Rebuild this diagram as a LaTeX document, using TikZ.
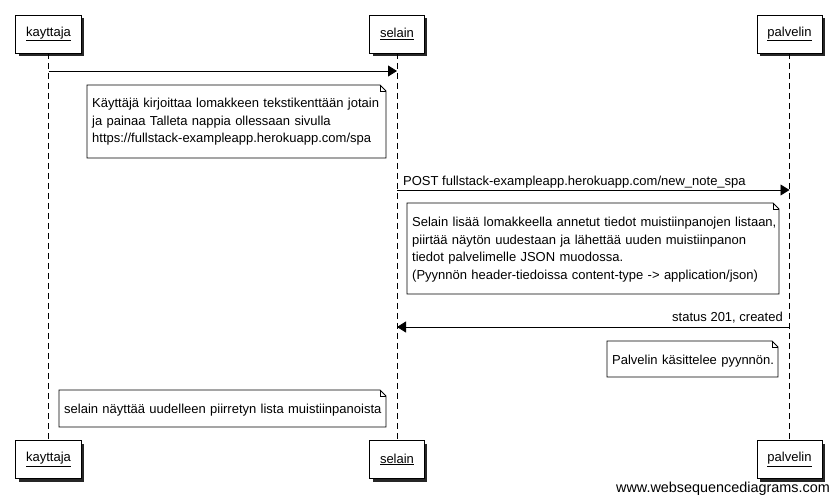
\documentclass[tikz,border=0pt]{standalone}
\usepackage{fontspec}
\setmainfont{Liberation Sans}
\usetikzlibrary{arrows.meta,shadows}
% #1 node name, #2 outline width, #3 outline height
\newcommand\drawnote[3]{%
  \draw[noteline] (#1.north west) -- ++(#2-6,0) -- ++(6,6) -- ++(0,#3-6) -- ++(-#2,0) -- cycle;
  \draw[noteline, fill=none] (#1.north west) ++(#2-6,0) -- ++(0,6) -- ++(6,0);}
\begin{document}
\begin{tikzpicture}[x=1pt,y=-1pt,
  font=\fontsize{13}{17.5}\selectfont,
  actor/.style={draw, line width=0.9pt, fill=white, minimum height=38pt, inner xsep=10.5pt,
    drop shadow={shadow xshift=3pt,shadow yshift=-3pt,fill=black,opacity=0.85}},
  lifeline/.style={line width=0.9pt, dash pattern=on 6pt off 4pt},
  msg/.style={line width=0.9pt, -{Triangle[length=9pt,width=11pt]}},
  note/.style={anchor=north west, inner xsep=5pt, inner ysep=0pt, align=left, text width=420pt},
  noteline/.style={line width=0.9pt, fill=white},
  lbl/.style={inner sep=0pt}]
\useasboundingbox (0,0) rectangle (835,502);
% lifelines
\coordinate (kt) at (48.5,53); \coordinate (kb) at (48.5,441);
\coordinate (st) at (397,53); \coordinate (sb) at (397,441);
\coordinate (pt) at (789.5,53); \coordinate (pb) at (789.5,441);
\draw[lifeline] (kt) -- (kb);
\draw[lifeline] (st) -- (sb);
\draw[lifeline] (pt) -- (pb);
% participants
\node[actor] (ktop) at (48.5,34) {\underline{kayttaja}};
\node[actor] (stop) at (397,34) {\underline{selain}};
\node[actor] (ptop) at (789.5,34) {\underline{palvelin}};
\node[actor] (kbot) at (48.5,459.5) {\underline{kayttaja}};
\node[actor] (sbot) at (397,459.5) {\underline{selain}};
\node[actor] (pbot) at (789.5,459.5) {\underline{palvelin}};
% message 1
\coordinate (m1a) at (48.5,71); \coordinate (m1b) at (397,71);
\draw[msg] (m1a) -- (m1b);
% note 1
\coordinate (n1) at (87,85);
\drawnote{n1}{299}{73}
\node[note, minimum height=73pt] (t1) at (n1)
  {Käyttäjä kirjoittaa lomakkeen tekstikenttään jotain\\ja painaa Talleta nappia ollessaan sivulla\\https://fullstack-exampleapp.herokuapp.com/spa};
% message 2
\coordinate (m2a) at (397,190); \coordinate (m2b) at (789.5,190);
\draw[msg] (m2a) -- (m2b);
\node[lbl, anchor=base west] (l2) at (403,186) {POST fullstack-exampleapp.herokuapp.com/new\_note\_spa};
% note 2
\coordinate (n2) at (407,203);
\drawnote{n2}{372}{91}
\node[note, minimum height=91pt] (t2) at ([yshift=-1pt]n2)
  {Selain lisää lomakkeella annetut tiedot muistiinpanojen listaan,\\piirtää näytön uudestaan ja lähettää uuden muistiinpanon\\tiedot palvelimelle JSON muodossa.\\(Pyynnön header-tiedoissa content-type -> application/json)};
% message 3
\coordinate (m3a) at (789.5,327); \coordinate (m3b) at (397,327);
\draw[msg] (m3a) -- (m3b);
\node[lbl, anchor=base east] (l3) at (783,322) {status 201, created};
% note 3
\coordinate (n3) at (607,341);
\drawnote{n3}{171}{36}
\node[note, minimum height=36pt] (t3) at ([yshift=-2pt]n3) {Palvelin käsittelee pyynnön.};
% note 4
\coordinate (n4) at (59,390);
\drawnote{n4}{327}{37}
\node[note, minimum height=37pt] (t4) at ([yshift=-1.5pt]n4) {selain näyttää uudelleen piirretyn lista muistiinpanoista};
% watermark
\node[lbl, anchor=base east, font=\fontsize{14.4}{16}\selectfont] (wm) at (830,492) {www.websequencediagrams.com};
\end{tikzpicture}
\end{document}
